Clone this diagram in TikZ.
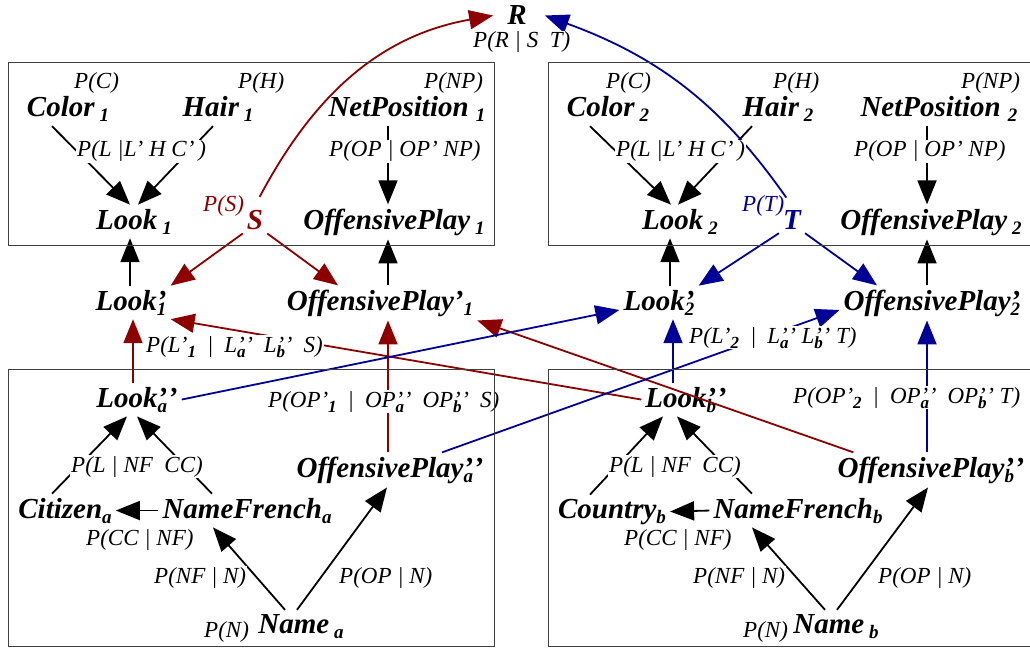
\documentclass[tikz,border=0pt]{standalone}
\usepackage{fontspec}
\setmainfont{Liberation Serif}
\usetikzlibrary{arrows.meta}

\definecolor{dred}{RGB}{140,0,0}
\definecolor{dblue}{RGB}{0,0,150}

% subscripts for variable names and for the probability labels
\newcommand{\nsb}[1]{\raisebox{-5pt}{\fontsize{19}{19}\selectfont #1}}
\newcommand{\lsb}[1]{\raisebox{-5pt}{\fontsize{17}{17}\selectfont\bfseries #1}}
% primes with a subscript below them
\newcommand{\pnsb}[2]{\setbox0=\hbox{#1}\setbox2=\hbox{\nsb{#2}}%
  \ifdim\wd0>\wd2 \rlap{\box2}\box0 \else\rlap{\box0}\box2\fi}
\newcommand{\plsb}[2]{\setbox0=\hbox{#1}\setbox2=\hbox{\lsb{#2}}%
  \ifdim\wd0>\wd2 \rlap{\box2}\box0 \else\rlap{\box0}\box2\fi}
\newcommand{\dpr}{'\kern0.5pt'}
\newcommand{\gap}{\hspace{11pt}}

\begin{document}
\begin{tikzpicture}[
    x=1pt, y=-1pt,
    var/.style={anchor=base, inner sep=4pt, font=\fontsize{29}{30}\selectfont\bfseries\itshape},
    prob/.style={anchor=base west, inner sep=1pt, fill=white, font=\fontsize{23}{24}\selectfont\itshape},
    arrow/.style={-{Triangle[length=24pt, width=19pt]}, line width=1.8pt},
    redarrow/.style={arrow, dred},
    bluearrow/.style={arrow, dblue},
    frame/.style={draw=black!75, line width=0.9pt}
]
    \useasboundingbox (0,0) rectangle (1030,650);

    % Root
    \node (r) [var] at (517,25) {R};

    % Group 1
    \node (color1) [var] at (68,117) {Color\,\nsb{1}};
    \node (hair1) [var] at (218,117) {Hair\,\nsb{1}};
    \node (netpos1) [var] at (407,117) {NetPosition\ \nsb{1}};
    \node (look1) [var] at (134,229) {Look\,\nsb{1}};
    \node (s) [var, text=dred] at (255,229) {S};
    \node (offplay1) [var] at (394,229) {OffensivePlay\,\nsb{1}};

    % Group 2
    \node (color2) [var] at (608,117) {Color\,\nsb{2}};
    \node (hair2) [var] at (778,117) {Hair\,\nsb{2}};
    \node (netpos2) [var] at (939,117) {NetPosition\ \nsb{2}};
    \node (look2) [var] at (680,229) {Look\,\nsb{2}};
    \node (t) [var, text=dblue] at (792,229) {T};
    \node (offplay2) [var] at (931,229) {OffensivePlay\,\nsb{2}};

    % Primed variables
    \node (lookp1) [var] at (131,310) {Look\pnsb{'}{1}};
    \node (offplayp1) [var] at (380,310) {OffensivePlay'\nsb{1}};
    \node (lookp2) [var] at (659,310) {Look\pnsb{'}{2}};
    \node (offplayp2) [var] at (932,310) {OffensivePlay\pnsb{'}{2}};

    % Record a
    \node (lookpa) [var] at (137,407) {Look\pnsb{\dpr}{a}};
    \node (offplaypa) [var] at (390,477) {OffensivePlay\pnsb{\dpr}{a}};
    \node (citizena) [var] at (65,518) {Citizen\nsb{a}};
    \node (namefra) [var] at (247,518) {NameFrench\nsb{a}};
    \node (namea) [var] at (301,633) {Name\,\nsb{a}};

    % Record b
    \node (lookpb) [var] at (686,407) {Look\pnsb{\dpr}{b}};
    \node (offplaypb) [var] at (931,477) {OffensivePlay\pnsb{\dpr}{b}};
    \node (countryb) [var] at (612,518) {Country\nsb{b}};
    \node (namefrb) [var] at (798,518) {NameFrench\nsb{b}};
    \node (nameb) [var] at (836,633) {Name\,\nsb{b}};

    % Links inside group 1
    \draw [arrow] ([xshift=-16]color1.south) -- ([xshift=-4]look1.north);
    \draw [arrow] ([xshift=-5]hair1.south) -- ([xshift=4]look1.north);
    \draw [arrow] ([xshift=-19]netpos1.south) -- ([xshift=-6]offplay1.north);
    \draw [arrow] ([xshift=-1]lookp1.north) -- ([xshift=-4]look1.south);
    \draw [arrow] ([xshift=8]offplayp1.north) -- ([xshift=-6]offplay1.south);

    % Links inside group 2
    \draw [arrow] ([xshift=-18]color2.south) -- ([xshift=-9]look2.north);
    \draw [arrow] ([xshift=-26]hair2.south) -- ([xshift=-2]look2.north);
    \draw [arrow] ([xshift=-12]netpos2.south) -- ([xshift=-4]offplay2.north);
    \draw [arrow] ([xshift=11]lookp2.north) -- ([xshift=-10]look2.south);
    \draw [arrow] ([xshift=-5]offplayp2.north) -- ([xshift=-4]offplay2.south);

    % Switches S and T
    \draw [redarrow] (s.south west) -- (lookp1.north east);
    \draw [redarrow] (s.south east) -- ([xshift=-42]offplayp1.north);
    \draw [redarrow, shorten <=10pt] (s.north) to [out=62, in=190] ([xshift=-10]r.west);
    \draw [bluearrow] (t.south west) -- (lookp2.north east);
    \draw [bluearrow] (t.south east) -- ([xshift=-55]offplayp2.north);
    \draw [bluearrow, shorten <=10pt] (t.north) to [out=125, in=-20] ([xshift=14]r.east);

    % Records to group 1
    \draw [redarrow] ([xshift=-4]lookpa.north) -- ([xshift=2]lookp1.south);
    \draw [redarrow] (lookpb.west) -- (lookp1.south east);
    \draw [redarrow] ([xshift=-2]offplaypa.north) -- ([xshift=8]offplayp1.south);
    \draw [redarrow] ([xshift=20]offplaypb.north west) -- (offplayp1.south east);

    % Records to group 2
    \draw [bluearrow] (lookpa.east) -- (lookp2.base west);
    \draw [bluearrow] ([xshift=52]offplaypa.north) -- (offplayp2.base west);
    \draw [bluearrow] ([xshift=-13]lookpb.north) -- ([xshift=14]lookp2.south);
    \draw [bluearrow] ([xshift=-4]offplaypb.north) -- ([xshift=-5]offplayp2.south);

    % Inside record a
    \draw [arrow] ([xshift=-13]citizena.north) -- ([xshift=-10]lookpa.south);
    \draw [arrow] ([xshift=-35]namefra.north) -- (lookpa.south);
    \draw [arrow] (namefra.west) -- (citizena.east);
    \draw [arrow] ([xshift=-16]namea.north) -- ([xshift=-34]namefra.south);
    \draw [arrow] ([xshift=-4]namea.north) -- ([xshift=-3]offplaypa.south);

    % Inside record b
    \draw [arrow] ([xshift=-22]countryb.north) -- ([xshift=-23]lookpb.south);
    \draw [arrow] ([xshift=-46]namefrb.north) -- ([xshift=-9]lookpb.south);
    \draw [arrow] (namefrb.west) -- (countryb.east);
    \draw [arrow] ([xshift=-11]nameb.north) -- ([xshift=-46]namefrb.south);
    \draw [arrow] ([xshift=1]nameb.north) -- ([xshift=-3]offplaypb.south);

    % Probability tables
    \node (pr) [prob] at (472,48) {P(R | S\ \ T)};
    \node (pc1) [prob] at (73,89) {P(C)};
    \node (ph1) [prob] at (237,89) {P(H)};
    \node (pnp1) [prob] at (423,89) {P(NP)};
    \node (pl1) [prob] at (76,157) {P(L |L' H C'\,)};
    \node (pop1) [prob] at (328,157) {P(OP | OP' NP)};
    \node (ps) [prob, fill=none, text=dred] at (202,211) {P(S)};
    \node (pc2) [prob] at (605,89) {P(C)};
    \node (ph2) [prob] at (772,89) {P(H)};
    \node (pnp2) [prob] at (960,89) {P(NP)};
    \node (pl2) [prob] at (615,157) {P(L |L' H C'\,)};
    \node (pop2) [prob] at (853,157) {P(OP | OP' NP)};
    \node (pt) [prob, fill=none, text=dblue] at (741,211) {P(T)};
    \node (plp1) [prob] at (145,352) {P(L'\lsb{1}\gap|\gap L\plsb{\dpr}{a}\gap L\plsb{\dpr}{b}\gap S)};
    \node (popp1) [prob] at (267,407) {P(OP'\lsb{1}\gap|\gap OP\plsb{\dpr}{a}\gap OP\plsb{\dpr}{b}\gap S)};
    \node (plp2) [prob] at (688,343) {P(L'\lsb{2}\gap|\gap L\plsb{\dpr}{a}\ L\plsb{\dpr}{b}\ T)};
    \node (popp2) [prob] at (792,403) {P(OP'\lsb{2}\gap|\gap OP\plsb{\dpr}{a}\gap OP\plsb{\dpr}{b}\ T)};
    \node (plnfa) [prob] at (70,472) {P(L | NF\ \ CC)};
    \node (pcca) [prob] at (85,545) {P(CC | NF)};
    \node (pnfa) [prob] at (153,583) {P(NF | N)};
    \node (popa) [prob] at (338,583) {P(OP | N)};
    \node (pna) [prob] at (203,637) {P(N)};
    \node (plnfb) [prob] at (608,472) {P(L | NF\ \ CC)};
    \node (pccb) [prob] at (623,545) {P(CC | NF)};
    \node (pnfb) [prob] at (692,583) {P(NF | N)};
    \node (popb) [prob] at (877,583) {P(OP | N)};
    \node (pnb) [prob] at (742,637) {P(N)};

    % Frames
    \draw [frame] (8,62) rectangle (494,245);
    \draw [frame] (548,62) rectangle (1040,245);
    \draw [frame] (8,369) rectangle (494,646);
    \draw [frame] (548,369) rectangle (1040,646);

\end{tikzpicture}
\end{document}
